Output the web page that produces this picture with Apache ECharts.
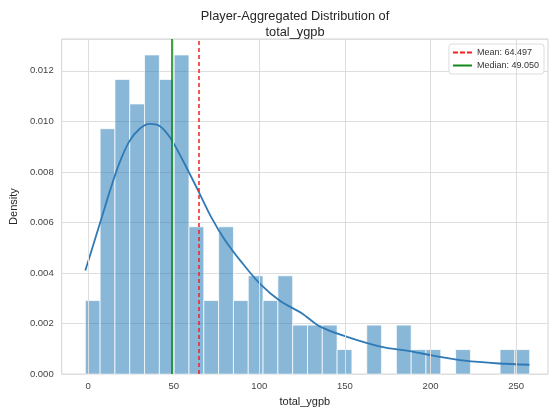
<!DOCTYPE html>
<html><head><meta charset="utf-8">
<script src="https://cdn.jsdelivr.net/npm/echarts@6/dist/echarts.min.js"></script>
<style>html,body{margin:0;padding:0;background:#fff}#c{width:552px;height:412px}</style>
</head><body><div id="c"></div>
<script>
// Histogram bins (density), 30 bins
const binStart = -1.6;
const binWidth = 8.65;
const densities = [0.00291,0.00971,0.01166,0.01069,0.01263,0.01166,0.01263,0.00583,0.00291,0.00583,
                   0.00291,0.00389,0.00291,0.00389,0.00194,0.00194,0.00194,0.00097,0,0.00194,
                   0,0.00194,0.00097,0.00097,0,0.00097,0,0,0.00097,0.00097];
// KDE curve
const kdeX = [-1.6,3,8,13,18,24,30,36,42,48,55,64,72,80,90,100,112,125,135,150,170,190,200,220,240,257.8];
const kdeY = [0.0041,0.0051,0.0062,0.0073,0.0083,0.0092,0.0097,0.0099,0.00981,0.00935,0.0085,0.0073,0.0062,0.0053,0.0044,0.0036,0.0029,0.0024,0.0019,0.0015,0.0011,0.00088,0.00075,0.00053,0.00042,0.00037];
const meanValue = 64.497;
const medianValue = 49.050;
const xTicks = [0,50,100,150,200,250];
const titleText = 'Player-Aggregated Distribution of\ntotal_ygpb';

const FONT = "'Liberation Sans', Arial, sans-serif";
const RED = '#f02020', GREEN = '#15881a';
const chart = echarts.init(document.getElementById('c'), null, {renderer:'canvas'});
const barData = densities.map((d,i)=>[binStart+i*binWidth, binStart+(i+1)*binWidth, d]);
const kdeData = kdeX.map((x,i)=>[x,kdeY[i]]);
const meanName = 'Mean: ' + meanValue.toFixed(3);
const medianName = 'Median: ' + medianValue.toFixed(3);

chart.setOption({
  animation:false,
  backgroundColor:'#fff',
  title:{text:titleText, left:290, top:3, textAlign:'center',
    textStyle:{fontFamily:FONT, fontSize:12.8, fontWeight:'normal', color:'#262626', lineHeight:16}},
  grid:{left:61, right:4, top:39, bottom:33, show:true, borderColor:'#d2d2d2', borderWidth:1, backgroundColor:'transparent'},
  legend:{orient:'vertical', right:8, top:44, padding:[4,5,4,4], itemGap:4,
    itemWidth:19, itemHeight:2, backgroundColor:'#fff', borderColor:'#dddddd', borderWidth:1, borderRadius:3,
    textStyle:{fontFamily:FONT, fontSize:9, color:'#333'},
    data:[
      {name:meanName, icon:'path://M0,0h5v2h-5z M7,0h5v2h-5z M14,0h5v2h-5z', itemStyle:{color:RED}},
      {name:medianName, icon:'path://M0,0h19v2h-19z', itemStyle:{color:GREEN}}
    ]},
  xAxis:{type:'value', min:-15.4, max:268.6,
    name:'total_ygpb', nameLocation:'middle', nameGap:16,
    nameTextStyle:{fontFamily:FONT, fontSize:11, color:'#262626'},
    axisLine:{show:false},
    axisTick:{show:false, customValues:xTicks},
    axisLabel:{customValues:xTicks, margin:7, fontFamily:FONT, fontSize:9.5, color:'#444'},
    splitLine:{show:false}},
  yAxis:{type:'value', min:0, max:0.01326, interval:0.002,
    name:'Density', nameLocation:'middle', nameGap:40,
    nameTextStyle:{fontFamily:FONT, fontSize:11, color:'#262626'},
    axisLine:{show:false}, axisTick:{show:false},
    axisLabel:{margin:8, fontFamily:FONT, fontSize:9.5, color:'#444', showMaxLabel:false,
      formatter:v=>v.toFixed(3)},
    splitLine:{show:true, lineStyle:{color:'#dedede', width:1}}},
  series:[
    {type:'line', name:'xgrid', data:[], z:1, silent:true,
      markLine:{silent:true, symbol:['none','none'], label:{show:false},
        lineStyle:{color:'#dedede', width:1, type:'solid'},
        data:xTicks.map(v=>({xAxis:v}))}},
    {type:'custom', name:'hist', z:2, encode:{x:[0,1], y:2}, data:barData,
      renderItem:function(params, api){
        const x0=api.value(0), x1=api.value(1), h=api.value(2);
        if(!h) return null;
        const p0=api.coord([x0,h]), p1=api.coord([x1,0]);
        return {type:'rect', shape:{x:p0[0], y:p0[1], width:p1[0]-p0[0], height:p1[1]-p0[1]},
          style:{fill:'rgba(31,119,180,0.53)', stroke:'rgba(255,255,255,0.75)', lineWidth:1}};
      }},
    {type:'line', name:'kde', data:kdeData, smooth:0.3, showSymbol:false, symbol:'none', z:3,
      lineStyle:{color:'#2f7ab6', width:1.8}},
    {type:'line', name:meanName, data:[], symbol:'none', z:4,
      lineStyle:{color:RED, width:1.5, type:[4,3]}, itemStyle:{color:RED},
      markLine:{silent:true, symbol:['none','none'], label:{show:false},
        lineStyle:{color:RED, width:1.5, type:[4,3]}, data:[{xAxis:meanValue}]}},
    {type:'line', name:medianName, data:[], symbol:'none', z:4,
      lineStyle:{color:GREEN, width:1.6, type:'solid'}, itemStyle:{color:GREEN},
      markLine:{silent:true, symbol:['none','none'], label:{show:false},
        lineStyle:{color:GREEN, width:1.6, type:'solid'}, data:[{xAxis:medianValue}]}}
  ]
});
</script></body></html>
